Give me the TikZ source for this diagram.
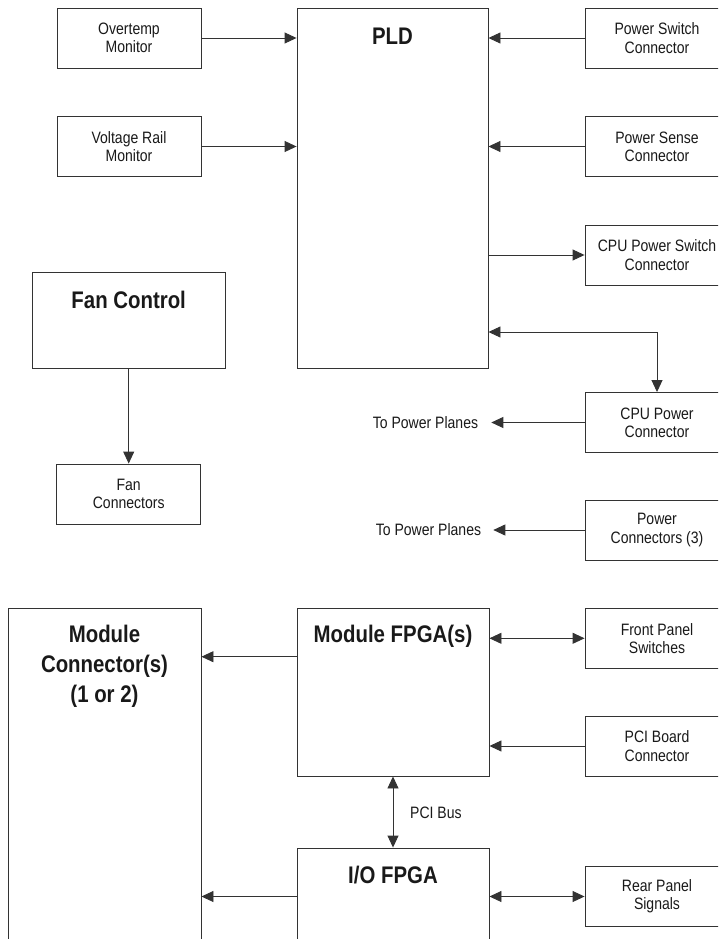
\documentclass[tikz,border=0pt]{standalone}
\usepackage{fontspec}
\setmainfont[FakeStretch=0.85]{Liberation Sans}
\usetikzlibrary{arrows.meta}

\begin{document}
\begin{tikzpicture}[x=1pt,y=-1pt,
  >={Triangle[length=12pt,width=11pt]},
  wire/.style={draw=black!80,line width=.9pt},
  box/.style={draw=black!80,line width=.9pt,minimum width=144pt,minimum height=60pt,
    inner sep=0pt,align=center,text=black!90,font=\fontsize{16.5}{18.3}\selectfont},
  bigbox/.style={draw=black!80,line width=.9pt,inner sep=0pt},
  title/.style={align=center,text=black!90,font=\bfseries\fontsize{24}{30}\selectfont},
  note/.style={text=black!90,font=\fontsize{16.5}{18.3}\selectfont}]
 \useasboundingbox (0,0) rectangle (718,939);
 \clip (0,0) rectangle (718,939);
 % power management
 \node[box] (ovt) at (129,38) {Overtemp\\Monitor};
 \node[box] (vrm) at (129,146.5) {Voltage Rail\\Monitor};
 \node[bigbox,minimum width=191pt,minimum height=360pt] (pld) at (392.5,188) {};
 \node[title] (pldt) at ([yshift=-29pt]pld.north) {PLD};
 \node[box] (psw) at (657,38) {Power Switch\\Connector};
 \node[box] (pse) at (657,146.5) {Power Sense\\Connector};
 \node[box] (cpusw) at (657,255) {CPU Power Switch\\Connector};
 \node[box] (cpupw) at (657,422.5) {CPU Power\\Connector};
 \node[box] (pwc) at (657,530) {Power\\Connectors (3)};
 \node[note,inner xsep=13pt] (tpp1) at (425.5,422.5) {To Power Planes};
 \node[note,inner xsep=12pt] (tpp2) at (428.5,530) {To Power Planes};
 % fans
 \node[bigbox,minimum width=193pt,minimum height=96pt] (fan) at (128.7,320) {};
 \node[title] (fant) at ([yshift=-28pt]fan.north) {Fan Control};
 \node[box] (fanc) at (128.7,494) {Fan\\Connectors};
 % modules
 \node[bigbox,minimum width=193pt,minimum height=400pt] (mcon) at (104.5,808) {};
 \node[title] (mcont) at ([yshift=-59pt]mcon.north) {Module\\Connector(s)\\(1 or 2)};
 \node[bigbox,minimum width=192pt,minimum height=168pt] (mfpga) at (393,692) {};
 \node[title] (mfpgat) at ([yshift=-29pt]mfpga.north) {Module FPGA(s)};
 \node[box] (fps) at (657,638.3) {Front Panel\\Switches};
 \node[box] (pcib) at (657,746) {PCI Board\\Connector};
 \node[bigbox,minimum width=192pt,minimum height=200pt] (iofpga) at (393,948) {};
 \node[title] (iot) at ([yshift=-27pt]iofpga.north) {I/O FPGA};
 \node[box] (rps) at (657,896.5) {Rear Panel\\Signals};
 \node[note,anchor=west,inner sep=0pt] (pcibus) at (410,812.7) {PCI Bus};

 \draw[wire,->] (ovt.east) -- (ovt.east -| pld.west);
 \draw[wire,->] (vrm.east) -- (vrm.east -| pld.west);
 \draw[wire,->] (psw.west) -- (psw.west -| pld.east);
 \draw[wire,->] (pse.west) -- (pse.west -| pld.east);
 \draw[wire,->] (cpusw.west -| pld.east) -- (cpusw.west);
 \draw[wire,<->] ([yshift=-144pt]pld.east) -| (cpupw.north);
 \draw[wire,->] (cpupw.west) -- (tpp1.east);
 \draw[wire,->] (pwc.west) -- (tpp2.east);
 \draw[wire,->] (fan.south) -- (fanc.north);
 \draw[wire,->] ([yshift=35.3pt]mfpga.west) -- ([yshift=35.3pt]mfpga.west -| mcon.east);
 \draw[wire,<->] (mfpga.east |- fps.west) -- (fps.west);
 \draw[wire,->] (pcib.west) -- (pcib.west -| mfpga.east);
 \draw[wire,<->] (mfpga.south) -- (iofpga.north);
 \draw[wire,<->] (iofpga.east |- rps.west) -- (rps.west);
 \draw[wire,->] (rps.west -| iofpga.west) -- (rps.west -| mcon.east);
\end{tikzpicture}
\end{document}
